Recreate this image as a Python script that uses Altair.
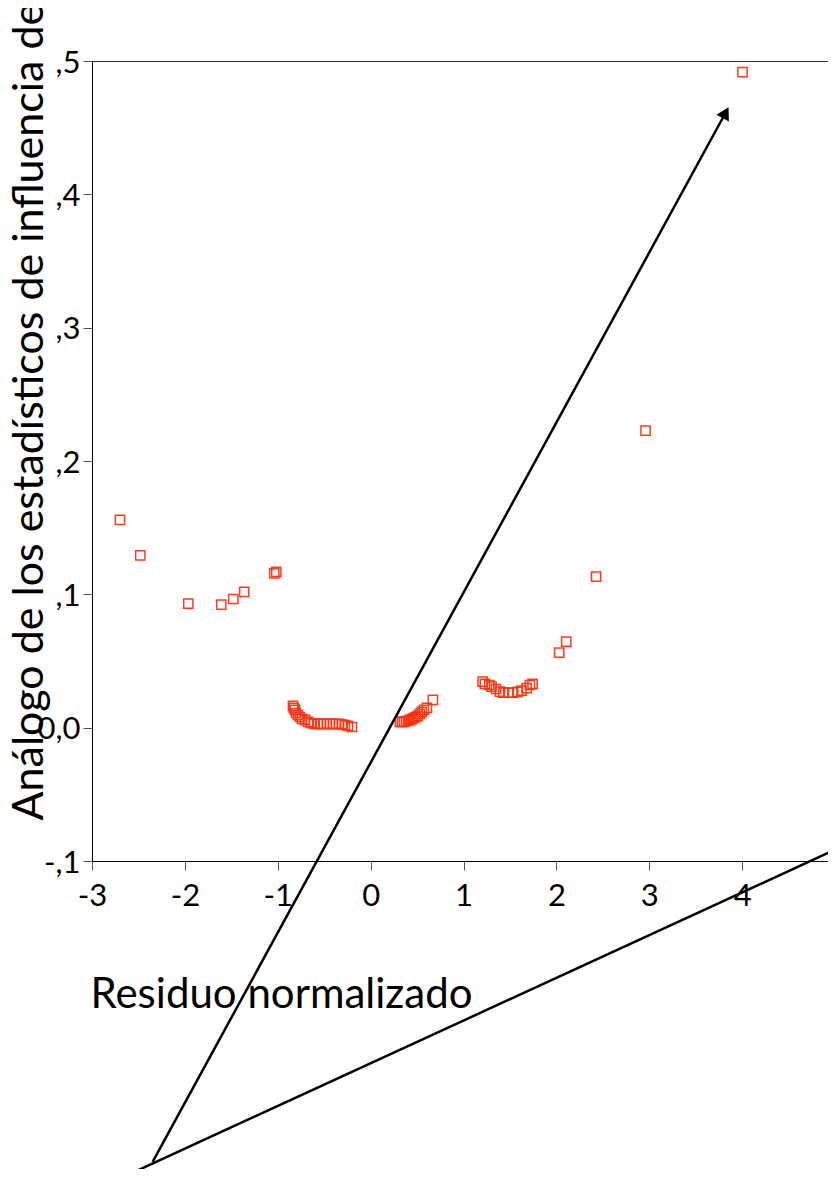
import altair as alt
import pandas as pd

# Scatter data: standardized residual vs Cook's influence analog
resid = [
    -2.699, -2.480, -1.963, -1.608, -1.479, -1.361, -1.038, -1.016,
    -0.836, -0.826, -0.815, -0.804, -0.783, -0.761, -0.740, -0.707, -0.675, -0.643,
    -0.610, -0.567, -0.535, -0.503, -0.471, -0.438, -0.406, -0.374, -0.341, -0.309,
    -0.277, -0.244, -0.201,
    0.315, 0.337, 0.358, 0.380, 0.401, 0.423, 0.445, 0.466, 0.488, 0.509, 0.531,
    0.552, 0.574, 0.606, 0.671,
    1.206, 1.230, 1.277, 1.302, 1.349, 1.392, 1.427, 1.481, 1.535, 1.586, 1.625,
    1.679, 1.715, 1.744,
    2.030, 2.106, 2.428, 2.960, 4.004,
]
influence = [
    0.1558, 0.1293, 0.0930, 0.0923, 0.0965, 0.1018, 0.1158, 0.1168,
    0.0163, 0.0148, 0.0133, 0.0110, 0.0095, 0.0080, 0.0065, 0.0058, 0.0043, 0.0035,
    0.0028, 0.0028, 0.0028, 0.0028, 0.0028, 0.0028, 0.0028, 0.0028, 0.0028, 0.0024,
    0.0020, 0.0013, 0.0005,
    0.0043, 0.0043, 0.0043, 0.0050, 0.0050, 0.0058, 0.0065, 0.0073, 0.0080, 0.0088, 0.0103,
    0.0118, 0.0133, 0.0148, 0.0208,
    0.0345, 0.0328, 0.0320, 0.0308, 0.0290, 0.0270, 0.0263, 0.0263, 0.0263, 0.0268, 0.0278,
    0.0296, 0.0320, 0.0328,
    0.0563, 0.0645, 0.1133, 0.2228, 0.4917,
]

# Axis ticks
x_ticks = [-3, -2, -1, 0, 1, 2, 3, 4, 5]
y_ticks = [-0.1, 0.0, 0.1, 0.2, 0.3, 0.4, 0.5]

# Annotation lines (in data units)
arrow_x = [-2.347, 3.822]
arrow_y = [-0.3256, 0.4612]
head_x = [3.822]
head_y = [0.4612]
line2_x = [-2.688, 5.052]
line2_y = [-0.3378, -0.0899]

FONT = "Lato"

pts = pd.DataFrame({"x": resid, "y": influence})
arrow_df = pd.DataFrame({"x": arrow_x, "y": arrow_y})
head_df = pd.DataFrame({"x": head_x, "y": head_y})
line2_df = pd.DataFrame({"x": line2_x, "y": line2_y})

xscale = alt.Scale(domain=[-3, 5], nice=False, zero=False)
yscale = alt.Scale(domain=[-0.1, 0.5], nice=False, zero=False)

xaxis = alt.Axis(
    values=x_ticks, grid=False, tickSize=9, tickColor="#555", domainColor="black",
    labelFontSize=31, labelFont=FONT, labelColor="black", labelFlush=False,
    labelPadding=11, labelExpr="datum.value < 0 ? '-' + abs(datum.value) : '' + datum.value",
    title="Residuo normalizado", titleFontSize=42, titleFont=FONT, titleFontWeight="normal",
    titleColor="black", titleAlign="left", titleBaseline="alphabetic",
    titleX=-2, titleY=146,
)
yaxis = alt.Axis(
    values=y_ticks, grid=False, tickSize=9, tickColor="#555", domainColor="black",
    labelFontSize=31, labelFont=FONT, labelColor="black", labelFlush=False,
    labelPadding=3, labelBaseline="middle", labelOffset=2,
    labelExpr="datum.value == 0 ? '0,0' : (datum.value < 0 ? '-,' : ',') + round(abs(datum.value) * 10)",
    title="Análogo de los estadísticos de influencia de Cook", titleFontSize=43, titleFont=FONT,
    titleFontWeight="normal", titleColor="black", titleAngle=270, titleAlign="left",
    titleBaseline="alphabetic", titleX=-50, titleY=759,
)

points = alt.Chart(pts).mark_point(
    shape="square", filled=False, size=85, color="#ff3311", strokeWidth=1.5, opacity=0.95
).encode(
    x=alt.X("x:Q", scale=xscale, axis=xaxis),
    y=alt.Y("y:Q", scale=yscale, axis=yaxis),
)

arrow = alt.Chart(arrow_df).mark_line(color="black", strokeWidth=2.5).encode(
    x=alt.X("x:Q", scale=xscale), y=alt.Y("y:Q", scale=yscale)
)
head = alt.Chart(head_df).mark_point(
    shape="triangle-up", filled=True, size=200, color="black", opacity=1, angle=28.65
).encode(x=alt.X("x:Q", scale=xscale), y=alt.Y("y:Q", scale=yscale))
line2 = alt.Chart(line2_df).mark_line(color="black", strokeWidth=2.5).encode(
    x=alt.X("x:Q", scale=xscale), y=alt.Y("y:Q", scale=yscale)
)

chart = alt.layer(points, arrow, head, line2).properties(
    width=743, height=800,
    autosize=alt.AutoSizeParams(type="none"),
    padding={"left": 84, "top": 53, "right": -7, "bottom": 308},
    background="white",
).configure_view(stroke="#333", strokeWidth=1)

chart.save("out.html", embed_options={"renderer": "svg", "actions": False})
